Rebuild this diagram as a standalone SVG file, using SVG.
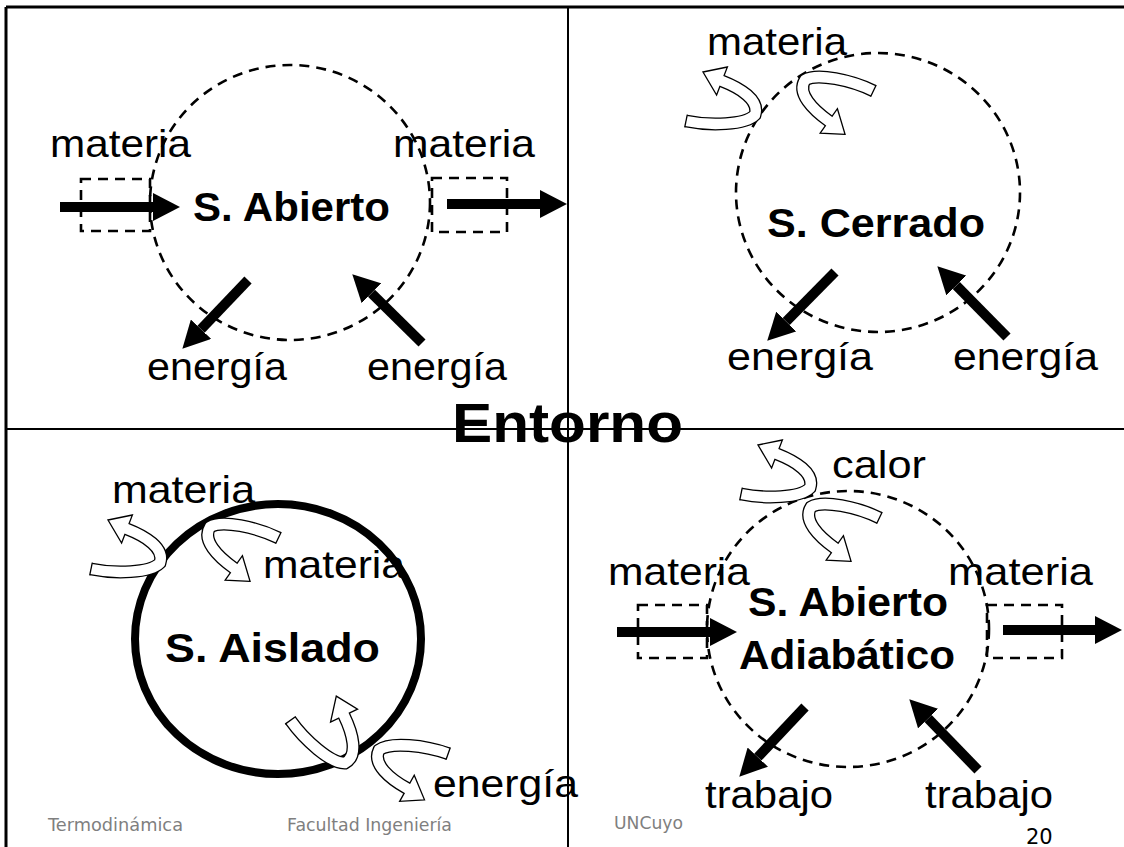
<svg xmlns="http://www.w3.org/2000/svg" width="1124" height="847" viewBox="0 0 1124 847">
<defs>
<style>
.lbl{font-family:"Liberation Sans",Arial,sans-serif;font-size:39px;fill:#000}
.bold{font-family:"Liberation Sans",Arial,sans-serif;font-size:41px;font-weight:bold;fill:#000}
.foot{font-family:"DejaVu Sans",Verdana,sans-serif;font-size:17px;fill:#7f7f7f}
.dash{fill:none;stroke:#000;stroke-width:2.6;stroke-dasharray:10 7}
.shaft{stroke:#000;stroke-width:10;fill:none}
.frame{stroke:#000;stroke-width:3}
.div{stroke:#000;stroke-width:2}
.bandO{fill:none;stroke:#000;stroke-width:13}
.bandI{fill:none;stroke:#fff;stroke-width:10.4}
.head{fill:#fff;stroke:#000;stroke-width:1.3}
</style>
<marker id="ah" markerUnits="userSpaceOnUse" markerWidth="27" markerHeight="28" viewBox="0 0 27 28" refX="0" refY="14" orient="auto"><path d="M0,0 L27,14 L0,28 Z" fill="#000"/></marker>
<g id="curl">
<path class="bandO" d="M-69,6 C-45,11 -10,10 0,0 C5,-15 -15,-27 -33,-34"/>
<polygon class="head" points="-52,-43 -27.6,-48 -38.4,-20"/>
<path class="bandI" d="M-69,6 C-45,11 -10,10 0,0 C5,-15 -15,-27 -33,-34 L-35,-34.8"/>
<line x1="-67.7" y1="-0.4" x2="-70.3" y2="12.4" stroke="#000" stroke-width="1.3"/>
</g>
</defs>
<rect x="0" y="0" width="1124" height="847" fill="#fff"/>
<g id="frame">
<line class="frame" x1="6" y1="7" x2="1124" y2="7"/>
<line class="frame" x1="6" y1="7" x2="6" y2="847"/>
<line class="div" x1="568" y1="7" x2="568" y2="847"/>
<line class="div" x1="6" y1="429" x2="1124" y2="429"/>
</g>
<g id="abierto">
<ellipse class="dash" cx="290" cy="202.5" rx="140" ry="137.5"/>
<rect class="dash" x="81" y="179" width="69" height="52"/>
<rect class="dash" x="432" y="178" width="75" height="54"/>
<text class="bold" x="193" y="221" textLength="197" lengthAdjust="spacingAndGlyphs">S. Abierto</text>
<text class="lbl" x="50" y="157" textLength="141" lengthAdjust="spacingAndGlyphs">materia</text>
<text class="lbl" x="393" y="157" textLength="142" lengthAdjust="spacingAndGlyphs">materia</text>
<text class="lbl" x="147" y="380" textLength="140" lengthAdjust="spacingAndGlyphs">energía</text>
<text class="lbl" x="367" y="380" textLength="140" lengthAdjust="spacingAndGlyphs">energía</text>
</g>
<g id="cerrado">
<ellipse class="dash" cx="878" cy="192.5" rx="142" ry="139.5"/>
<text class="bold" x="767" y="237" textLength="218" lengthAdjust="spacingAndGlyphs">S. Cerrado</text>
<text class="lbl" x="707" y="55" textLength="140" lengthAdjust="spacingAndGlyphs">materia</text>
<text class="lbl" x="727" y="370" textLength="146" lengthAdjust="spacingAndGlyphs">energía</text>
<text class="lbl" x="953" y="370" textLength="145" lengthAdjust="spacingAndGlyphs">energía</text>
</g>
<g id="aislado">
<ellipse cx="278" cy="639" rx="143" ry="135" fill="none" stroke="#000" stroke-width="8"/>
<text class="bold" x="165" y="662" textLength="215" lengthAdjust="spacingAndGlyphs">S. Aislado</text>
<text class="lbl" x="112" y="503" textLength="143" lengthAdjust="spacingAndGlyphs">materia</text>
<text class="lbl" x="263" y="578" textLength="142" lengthAdjust="spacingAndGlyphs">materia</text>
<text class="lbl" x="433" y="797" textLength="145" lengthAdjust="spacingAndGlyphs">energía</text>
</g>
<g id="adiabatico">
<ellipse class="dash" cx="848" cy="629" rx="141" ry="138"/>
<rect class="dash" x="638" y="605" width="69" height="53"/>
<rect class="dash" x="987" y="605" width="75" height="53"/>
<text class="bold" x="748" y="616" textLength="200" lengthAdjust="spacingAndGlyphs">S. Abierto</text>
<text class="bold" x="739" y="669" textLength="216" lengthAdjust="spacingAndGlyphs">Adiabático</text>
<text class="lbl" x="832" y="478" textLength="94" lengthAdjust="spacingAndGlyphs">calor</text>
<text class="lbl" x="608" y="585" textLength="142" lengthAdjust="spacingAndGlyphs">materia</text>
<text class="lbl" x="948" y="585" textLength="145" lengthAdjust="spacingAndGlyphs">materia</text>
<text class="lbl" x="705" y="808" textLength="128" lengthAdjust="spacingAndGlyphs">trabajo</text>
<text class="lbl" x="925" y="808" textLength="128" lengthAdjust="spacingAndGlyphs">trabajo</text>
</g>
<g id="entorno">
<text class="bold" x="452" y="442" style="font-size:56px" textLength="231" lengthAdjust="spacingAndGlyphs">Entorno</text>
</g>
<g id="connectors">
<line class="shaft" x1="60" y1="207" x2="153" y2="207" marker-end="url(#ah)"/>
<line class="shaft" x1="447" y1="204" x2="540" y2="204" marker-end="url(#ah)"/>
<line class="shaft" x1="248" y1="280" x2="201" y2="329.2" marker-end="url(#ah)"/>
<line class="shaft" x1="422" y1="343" x2="371.5" y2="293.2" marker-end="url(#ah)"/>
<line class="shaft" x1="835" y1="272" x2="786.2" y2="321.5" marker-end="url(#ah)"/>
<line class="shaft" x1="1007" y1="337" x2="956.3" y2="285.5" marker-end="url(#ah)"/>
<line class="shaft" x1="617" y1="632" x2="710" y2="632" marker-end="url(#ah)"/>
<line class="shaft" x1="1003" y1="630" x2="1095" y2="630" marker-end="url(#ah)"/>
<line class="shaft" x1="805" y1="707" x2="757.8" y2="757.1" marker-end="url(#ah)"/>
<line class="shaft" x1="978" y1="770" x2="928.1" y2="718.6" marker-end="url(#ah)"/>
<use href="#curl" transform="translate(755,115)"/>
<use href="#curl" transform="translate(805,80) rotate(194)"/>
<use href="#curl" transform="translate(160,563)"/>
<use href="#curl" transform="translate(210,527) rotate(194)"/>
<use href="#curl" transform="translate(345,763) rotate(43)"/>
<use href="#curl" transform="translate(379,750) rotate(188)"/>
<use href="#curl" transform="translate(810,488)"/>
<use href="#curl" transform="translate(811,507) rotate(194)"/>
</g>
<g id="footer">
<text class="foot" x="48" y="831" textLength="135" lengthAdjust="spacingAndGlyphs">Termodinámica</text>
<text class="foot" x="287" y="831" textLength="165" lengthAdjust="spacingAndGlyphs">Facultad Ingeniería</text>
<text class="foot" x="614" y="829" textLength="69" lengthAdjust="spacingAndGlyphs">UNCuyo</text>
<text x="1026" y="844" style="font-family:'DejaVu Sans',Verdana,sans-serif;font-size:21px;fill:#000">20</text>
</g>
</svg>
